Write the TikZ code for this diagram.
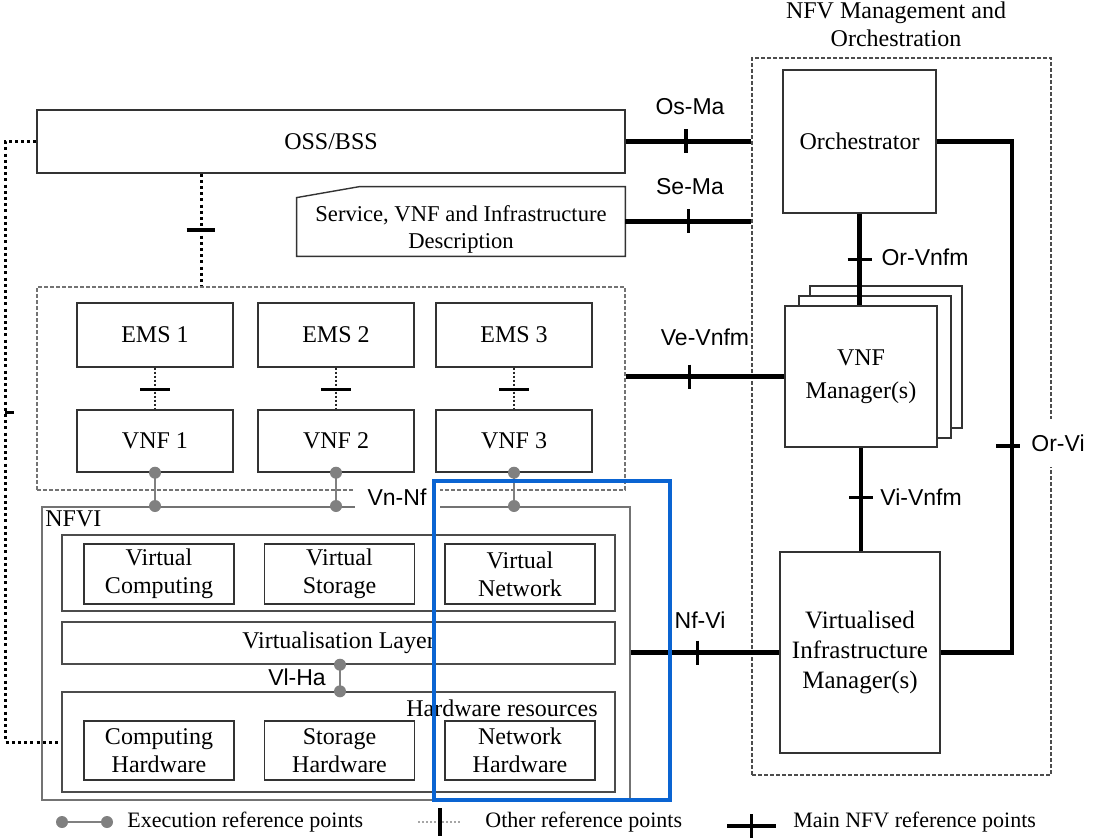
\documentclass[tikz,border=0pt]{standalone}
\usepackage{fontspec}
\setmainfont{Liberation Serif}
\setsansfont{Liberation Sans}
\usetikzlibrary{calc}
\definecolor{hiblue}{RGB}{10,100,210}

\tikzset{
  sz/.style 2 args={minimum width={#1*0.5pt}, minimum height={#2*0.5pt}},
  blk/.style={draw=black!80, line width=0.7pt, fill=white, inner sep=0pt, align=center},
  frame/.style={draw=black!70, line width=0.7pt, inner sep=0pt},
  grp/.style={draw=black!70, line width=0.7pt, dash pattern=on 2pt off 1pt, inner sep=0pt},
  lbl/.style={font=\sffamily\fontsize{11.5}{13}\selectfont, inner sep=1pt},
  legtext/.style={anchor=west, inner sep=0pt, font=\fontsize{11}{13}\selectfont},
  mainref/.style={line width=2.4pt, black},
  otherref/.style={line width=1.5pt, black, dash pattern=on 1.5pt off 1.6pt},
  lightref/.style={line width=1pt, black!85, dash pattern=on 1pt off 1pt},
  execref/.style={line width=1.4pt, gray},
  vtick/.pic={\draw[solid, black, line width=1.6pt] (0,-12) -- (0,12);},
  htick/.pic={\draw[solid, black, line width=1.6pt] (-12,0) -- (12,0);},
}
\newcommand\execdot[1]{\fill[gray] (#1) circle (3pt);}

\begin{document}
\begin{tikzpicture}[x=0.5pt, y=-0.5pt, font=\fontsize{12}{14}\selectfont]
\useasboundingbox (0,0) rectangle (1095,839);

% NFV management and orchestration
\node[align=center] (manotitle) at (896,24) {NFV Management and\\Orchestration};
\node[grp, sz={299}{717}] (mano) at (901.5,416.5) {};
\node[blk, sz={153}{143}] (orch) at (859.5,141.5) {Orchestrator};
\node[blk, sz={152}{142}] (vnfmc) at (886,357) {};
\node[blk, sz={152}{142}] (vnfmb) at (875,367) {};
\node[blk, sz={152}{141}, font=\fontsize{12}{16.5}\selectfont] (vnfm) at (861,376.5) {VNF\\Manager(s)};
\node[blk, sz={160}{201}, font=\fontsize{12.5}{15}\selectfont] (vim) at (860,652.5) {Virtualised\\Infrastructure\\Manager(s)};

% OSS/BSS and descriptions
\node[blk, sz={588}{63}] (oss) at (331,141.5) {OSS/BSS};
\node[inner sep=0pt, sz={328}{69}] (sdesc) at (461,221.5) {};
\draw[draw=black!80, line width=0.7pt] (sdesc.south west) -- ($(sdesc.north west)+(0,11)$)
  -- ($(sdesc.north west)+(63,0)$) -- (sdesc.north east) -- (sdesc.south east) -- cycle;
\node[align=center, font=\fontsize{11.3}{13.5}\selectfont] (sdesctext) at ($(sdesc.center)+(0,8)$)
  {Service, VNF and Infrastructure\\Description};

% EMS and VNF
\node[grp, draw=black!55, sz={588}{203}] (vnfgrp) at (331,388.5) {};
\foreach \i/\x in {1/155,2/336,3/514} {
  \node[blk, sz={156}{64}] (ems\i) at (\x,335) {EMS \i};
  \node[blk, sz={156}{62}] (vnf\i) at (\x,441) {VNF \i};
  \draw[lightref] (ems\i) -- coordinate[pos=.53] (ev\i) (vnf\i);
  \pic[xscale=1.25] at (ev\i) {htick};
}

% NFVI
\node[frame, draw=black!55, line width=1pt, sz={588}{293}] (nfvi) at (336,653.5) {};
\node[anchor=north west, inner sep=2pt] (nfvilbl) at (nfvi.north west) {NFVI};
\node[frame, sz={553}{76}] (virt) at (338.5,573) {};
\node[blk, sz={150}{60}] (vcomp) at (159,574) {Virtual\\Computing};
\node[blk, sz={150}{60}] (vstor) at (339.5,574) {Virtual\\Storage};
\node[blk, sz={150}{60}] (vnet) at (520,574) {Virtual\\Network};
\node[frame, sz={553}{42}] (vlayer) at (338.5,643) {Virtualisation Layer};
\node[frame, sz={553}{100}] (hw) at (338.5,742) {};
\node (hwlbl) at (502,708) {Hardware resources};
\node[blk, sz={150}{59}] (chw) at (159,750.5) {Computing\\Hardware};
\node[blk, sz={150}{59}] (shw) at (339.5,750.5) {Storage\\Hardware};
\node[blk, sz={150}{59}] (nhw) at (520,750.5) {Network\\Hardware};

% execution reference points
\foreach \i in {1,2,3} {
  \draw[execref] (vnf\i.south) -- (vnf\i.south |- nfvi.north);
  \execdot{vnf\i.south} \execdot{vnf\i.south |- nfvi.north}
}
\node[lbl, fill=white, minimum width=42.5pt, minimum height=15pt] (vnnf) at (397,497) {Vn-Nf};
\coordinate (vlha) at (340,0);
\draw[execref] (vlayer.south -| vlha) -- (hw.north -| vlha);
\execdot{vlayer.south -| vlha} \execdot{hw.north -| vlha}
\node[lbl] (vlhalbl) at (297,677) {Vl-Ha};

% other reference points
\coordinate (ossx) at (201,0);
\draw[otherref] (oss.south -| ossx) -- coordinate (ossems) (vnfgrp.north -| ossx);
\pic[xscale=1.2] at (ossems) {htick};
\coordinate (lft) at (5,412);
\draw[otherref] (oss.west) -| (lft) |- (hw.west);
\draw[line width=1.5pt] (lft) -- ++(9,0);

% main NFV reference points
\draw[mainref] (oss.east) -- coordinate[pos=.48] (osma) (oss.east -| mano.west);
\pic at (osma) {vtick};
\node[lbl] (osmalbl) at (690,107) {Os-Ma};
\draw[mainref] (sdesc.east) -- coordinate[pos=.5] (sema) (sdesc.east -| mano.west);
\pic at (sema) {vtick};
\node[lbl] (semalbl) at (690,187) {Se-Ma};
\draw[mainref] (vnfgrp.east |- vnfm.west) -- coordinate[pos=.4] (vevnfm) (vnfm.west);
\pic at (vevnfm) {vtick};
\node[lbl] (vevnfmlbl) at (705,337) {Ve-Vnfm};
\draw[mainref] (nfvi.east |- vim.west) -- coordinate[pos=.45] (nfvi2) (vim.west);
\pic at (nfvi2) {vtick};
\node[lbl] (nfvilbl2) at (700,620) {Nf-Vi};
\draw[mainref] (orch.south) -- coordinate[pos=.5] (orvnfm) (orch.south |- vnfm.north);
\pic at (orvnfm) {htick};
\node[lbl] (orvnfmlbl) at (925,257) {Or-Vnfm};
\draw[mainref] (vnfm.south) -- coordinate[pos=.48] (vivnfm) (vnfm.south |- vim.north);
\pic at (vivnfm) {htick};
\node[lbl] (vivnfmlbl) at (921,497) {Vi-Vnfm};
\coordinate (orvi) at (1012,446);
\draw[mainref] (orch.east) -| (orvi) |- (vim.east);
\pic at ($(orvi)+(-4,0)$) {htick};
\node[lbl, fill=white, inner ysep=8pt] (orvilbl) at (1058,443) {Or-Vi};

% legend
\node[legtext] (legexec) at (127,822) {Execution reference points};
\node[legtext] (legother) at (485,822) {Other reference points};
\node[legtext] (legmain) at (793,822) {Main NFV reference points};
\draw[execref] ($(legexec.west)+(-65,0)$) coordinate (lx1) -- ($(legexec.west)+(-20,0)$) coordinate (lx2);
\execdot{lx1} \execdot{lx2}
\draw[lightref, gray!70] ($(legother.west)+(-67,0)$) -- coordinate (lo) ($(legother.west)+(-23,0)$);
\pic[yscale=1.15] at (lo) {vtick};
\draw[mainref] ($(legmain.west)+(-66,4)$) -- coordinate (lm) ($(legmain.west)+(-17,4)$);
\pic at (lm) {vtick};

% highlight
\draw[hiblue, line width=2pt] (434,481) rectangle (670,800);
\end{tikzpicture}
\end{document}
